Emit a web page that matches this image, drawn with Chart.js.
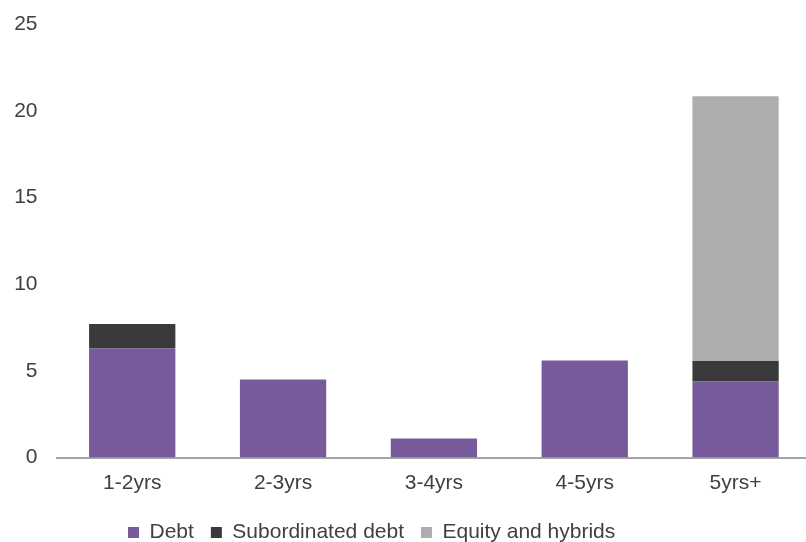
<!DOCTYPE html>
<html>
<head>
<meta charset="utf-8">
<script src="https://cdn.jsdelivr.net/npm/chart.js@4.4.1/dist/chart.umd.min.js"></script>
<style>
  html, body { margin: 0; padding: 0; background: #ffffff; overflow: hidden; width: 806px; height: 542px; }
  #c { display: block; }
</style>
</head>
<body>
<canvas id="c" width="812" height="542"></canvas>
<script>
// ---- data ----
const categories = ['1-2yrs', '2-3yrs', '3-4yrs', '4-5yrs', '5yrs+'];
const debt = [6.3, 4.5, 1.1, 5.6, 4.4];
const subordinatedDebt = [1.4, 0, 0, 0, 1.17];
const equityAndHybrids = [0, 0, 0, 0, 15.28];
const seriesNames = ['Debt', 'Subordinated debt', 'Equity and hybrids'];
const yTicks = [0, 5, 10, 15, 20, 25];

// ---- styling ----
const colors = ['#775A9B', '#3A3A3C', '#AEAEB0'];
const textColor = '#404040';
Chart.defaults.font.family = "'Liberation Sans', Arial, sans-serif";
Chart.defaults.font.size = 21;
Chart.defaults.color = textColor;

// nudges the built-in legend to the reference position
const legendPlace = {
  id: 'legendPlace',
  afterLayout(chart) {
    const lg = chart.legend;
    if (!lg) return;
    lg.left = 111;
    lg.top += 9.3;
    lg.bottom += 9.3;
  }
};

new Chart(document.getElementById('c'), {
  type: 'bar',
  data: {
    labels: categories,
    datasets: [
      { label: seriesNames[0], data: debt, backgroundColor: colors[0], borderWidth: 0 },
      { label: seriesNames[1], data: subordinatedDebt, backgroundColor: colors[1], borderWidth: 0 },
      { label: seriesNames[2], data: equityAndHybrids, backgroundColor: colors[2], borderWidth: 0 }
    ]
  },
  options: {
    responsive: false,
    animation: false,
    devicePixelRatio: 1,
    layout: { padding: { left: 14, right: 1, top: 24.3, bottom: -1.7 } },
    datasets: { bar: { barPercentage: 0.572, categoryPercentage: 1.0 } },
    scales: {
      x: {
        stacked: true,
        grid: { display: false, drawTicks: false },
        border: { display: true, color: '#A5A5A5', width: 2 },
        ticks: { padding: 13, color: textColor, font: { size: 21 } },
        afterFit(scale) { scale.height = 38.2; scale.paddingLeft = 0; scale.paddingRight = 0; }
      },
      y: {
        stacked: true,
        min: 0,
        max: 25,
        afterBuildTicks(scale) { scale.ticks = yTicks.map(v => ({ value: v })); },
        grid: { display: false, drawTicks: false },
        border: { display: false },
        ticks: { padding: 19.3, color: textColor, font: { size: 21 } },
        afterFit(scale) { scale.width = 42.8; scale.paddingTop = 0; scale.paddingBottom = 0; }
      }
    },
    plugins: {
      legend: {
        position: 'bottom',
        align: 'start',
        labels: {
          boxWidth: 11,
          boxHeight: 11,
          padding: 17,
          color: textColor,
          font: { size: 21 }
        }
      },
      tooltip: { enabled: false }
    }
  },
  plugins: [legendPlace]
});
</script>
</body>
</html>
